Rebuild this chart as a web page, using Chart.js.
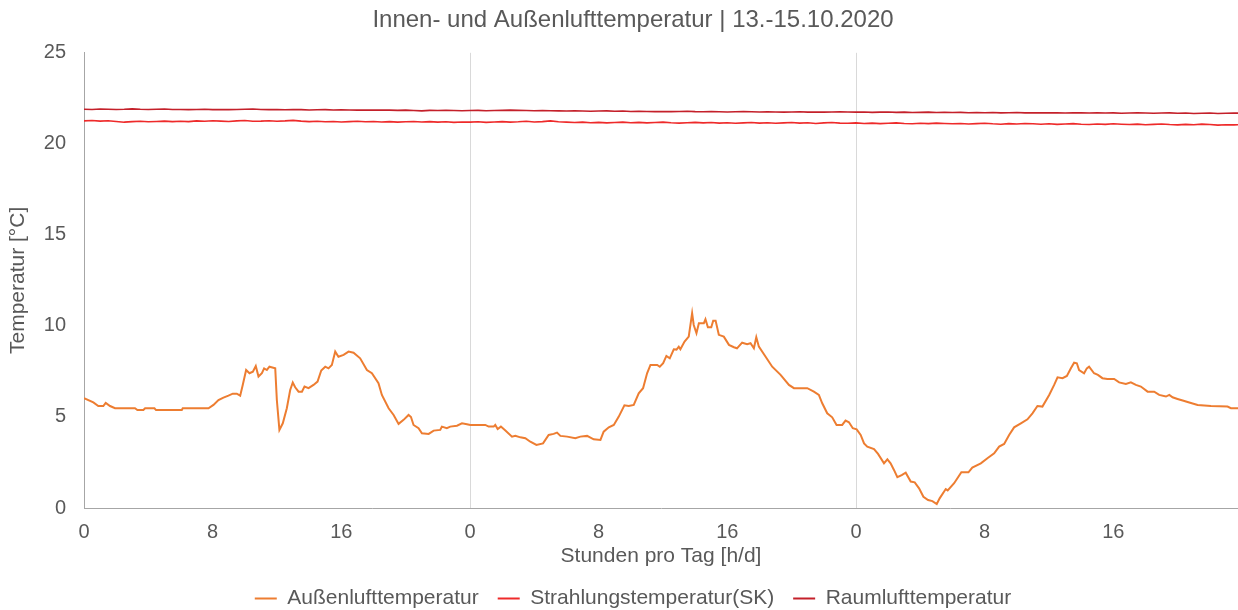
<!DOCTYPE html>
<html>
<head>
<meta charset="utf-8">
<title>Innen- und Außenlufttemperatur</title>
<script src="https://cdn.jsdelivr.net/npm/chart.js@4.4.0/dist/chart.umd.min.js"></script>
<style>
  html, body { margin: 0; padding: 0; background: #fff; }
  #wrap { width: 1238px; height: 610px; position: relative; }
</style>
</head>
<body>
<div id="wrap"><canvas id="myChart"></canvas></div>
<script>
// Außenlufttemperatur (hour since 13.10. 0:00, °C)
const outsideHours = [
  0.0, 0.58, 0.89, 1.2, 1.35, 1.62, 1.93, 3.17, 3.32, 3.69, 3.8, 4.38, 4.48, 6.08, 6.14, 7.74,
  8.05, 8.36, 8.67, 8.98, 9.25, 9.5, 9.71, 9.87, 10.08, 10.29, 10.5, 10.68, 10.85, 11.06, 11.2,
  11.37, 11.53, 11.89, 11.99, 12.15, 12.36, 12.61, 12.82, 12.98, 13.13, 13.34, 13.55, 13.71,
  13.96, 14.27, 14.52, 14.75, 15.0, 15.2, 15.41, 15.62, 15.82, 16.14, 16.45, 16.76, 17.17,
  17.59, 17.9, 18.31, 18.52, 18.94, 19.25, 19.56, 19.87, 20.18, 20.33, 20.49, 20.8, 21.01,
  21.43, 21.74, 22.15, 22.25, 22.56, 22.77, 23.19, 23.5, 23.81, 24.02, 24.95, 25.16, 25.47,
  25.57, 25.72, 25.92, 26.2, 26.61, 26.82, 27.13, 27.44, 27.75, 28.13, 28.54, 28.89, 29.2,
  29.41, 29.62, 30.04, 30.55, 30.86, 31.28, 31.69, 32.11, 32.31, 32.63, 32.94, 33.25, 33.6,
  33.87, 34.18, 34.49, 34.76, 35.01, 35.22, 35.64, 35.8, 36.01, 36.21, 36.42, 36.67, 36.84,
  36.98, 37.08, 37.34, 37.6, 37.81, 37.91, 38.08, 38.23, 38.54, 38.64, 38.79, 39.0, 39.12,
  39.27, 39.47, 39.78, 40.1, 40.41, 40.6, 40.92, 41.23, 41.44, 41.65, 41.8, 41.96, 42.38,
  42.79, 43.31, 43.83, 44.14, 44.97, 45.38, 45.69, 45.9, 46.21, 46.52, 46.79, 47.14, 47.35,
  47.56, 47.8, 48.04, 48.29, 48.5, 48.7, 49.12, 49.37, 49.74, 49.95, 50.15, 50.36, 50.57,
  50.84, 51.09, 51.4, 51.65, 51.92, 52.19, 52.48, 52.75, 53.02, 53.2, 53.58, 53.7, 54.1,
  54.55, 54.99, 55.23, 55.76, 56.17, 56.59, 56.9, 57.21, 57.52, 57.83, 58.25, 58.66, 58.97,
  59.28, 59.59, 60.01, 60.32, 60.53, 60.84, 61.11, 61.36, 61.56, 61.73, 61.87, 62.18, 62.35,
  62.49, 62.8, 63.04, 63.32, 63.63, 64.05, 64.36, 64.78, 65.09, 65.4, 65.71, 66.13, 66.54,
  66.85, 67.27, 67.48, 67.68, 67.99, 68.31, 68.72, 69.24, 70.07, 71.1, 71.31, 71.75
];
const outsideTemp = [
  6.03, 5.8, 5.6, 5.6, 5.77, 5.6, 5.48, 5.48, 5.38, 5.38, 5.48, 5.48, 5.38, 5.38, 5.48, 5.48,
  5.66, 5.93, 6.06, 6.17, 6.28, 6.28, 6.17, 6.76, 7.58, 7.4, 7.49, 7.8, 7.22, 7.4, 7.67,
  7.58, 7.76, 7.67, 5.93, 4.29, 4.65, 5.48, 6.48, 6.89, 6.63, 6.39, 6.39, 6.67,
  6.58, 6.76, 6.94, 7.55, 7.76, 7.67, 7.86, 8.59, 8.31, 8.41, 8.59, 8.53, 8.22,
  7.58, 7.4, 6.85, 6.21, 5.48, 5.11, 4.62, 4.84, 5.11, 5.0, 4.56, 4.38, 4.1,
  4.07, 4.25, 4.29, 4.47, 4.38, 4.47, 4.52, 4.65, 4.6, 4.56, 4.56, 4.47, 4.47,
  4.56, 4.34, 4.47, 4.25, 3.92, 3.97, 3.88, 3.83, 3.64, 3.46, 3.55, 4.01, 4.07,
  4.14, 3.96, 3.92, 3.83, 3.92, 3.96, 3.77, 3.74, 4.19, 4.43, 4.56, 5.02, 5.64,
  5.6, 5.66, 6.3, 6.58, 7.4, 7.86, 7.86, 7.76, 7.95, 8.35, 8.22, 8.72, 8.7,
  8.86, 8.72, 9.14, 9.41, 10.7, 10.05, 9.6, 10.15, 10.15, 10.37, 9.93, 9.93, 10.29,
  10.29, 9.51, 9.41, 8.96, 8.83, 8.77, 9.08, 9.0, 9.05, 8.77, 9.38, 8.86, 8.31,
  7.76, 7.31, 6.76, 6.58, 6.58, 6.39, 6.21, 5.75, 5.2, 4.98, 4.56, 4.56, 4.8,
  4.71, 4.38, 4.32, 4.01, 3.55, 3.37, 3.24, 2.97, 2.45, 2.67, 2.45, 2.09, 1.69,
  1.81, 1.94, 1.45, 1.41, 1.08, 0.62, 0.44, 0.38, 0.22, 0.53, 1.04, 0.97, 1.36,
  1.96, 1.96, 2.22, 2.45, 2.73, 3.0, 3.37, 3.52, 4.01, 4.43, 4.65, 4.87, 5.2,
  5.6, 5.57, 6.21, 6.76, 7.18, 7.13, 7.25, 7.67, 7.98, 7.95, 7.58, 7.4, 7.67,
  7.76, 7.4, 7.31, 7.13, 7.09, 7.09, 6.9, 6.81, 6.9, 6.76, 6.67, 6.39, 6.39,
  6.21, 6.12, 6.21, 6.08, 5.99, 5.9, 5.79, 5.66, 5.6, 5.57, 5.48, 5.48
];

// indoor series, one value per half hour (0 ... 72 h)
const indoorHours = Array.from({ length: 145 }, (_, i) => i * 0.5);
const radiantTemp = [
  21.26, 21.28, 21.25, 21.27, 21.23, 21.19, 21.22, 21.24, 21.21, 21.23, 21.25, 21.22,
  21.24, 21.22, 21.26, 21.24, 21.27, 21.25, 21.23, 21.26, 21.28, 21.24, 21.25, 21.27,
  21.24, 21.26, 21.29, 21.25, 21.22, 21.24, 21.21, 21.23, 21.20, 21.22, 21.24, 21.21,
  21.23, 21.20, 21.22, 21.19, 21.21, 21.23, 21.20, 21.22, 21.19, 21.21, 21.18, 21.20,
  21.19, 21.21, 21.18, 21.20, 21.22, 21.19, 21.21, 21.24, 21.20, 21.22, 21.26, 21.21,
  21.19, 21.17, 21.19, 21.16, 21.18, 21.15, 21.17, 21.19, 21.16, 21.18, 21.15, 21.17,
  21.19, 21.16, 21.14, 21.16, 21.18, 21.15, 21.17, 21.14, 21.16, 21.13, 21.15, 21.17,
  21.14, 21.16, 21.13, 21.15, 21.17, 21.14, 21.16, 21.12, 21.15, 21.17, 21.14, 21.13,
  21.15, 21.12, 21.14, 21.11, 21.13, 21.15, 21.12, 21.10, 21.13, 21.11, 21.14, 21.12,
  21.10, 21.12, 21.09, 21.11, 21.13, 21.10, 21.08, 21.11, 21.09, 21.12, 21.10, 21.08,
  21.10, 21.07, 21.09, 21.11, 21.08, 21.06, 21.09, 21.07, 21.10, 21.08, 21.06, 21.08,
  21.05, 21.07, 21.09, 21.06, 21.04, 21.07, 21.05, 21.08, 21.06, 21.03, 21.05, 21.04,
  21.05
];
const roomTemp = [
  21.90, 21.89, 21.91, 21.90, 21.89, 21.90, 21.92, 21.90, 21.89, 21.90, 21.91, 21.89,
  21.89, 21.88, 21.89, 21.90, 21.88, 21.89, 21.88, 21.89, 21.90, 21.91, 21.89, 21.88,
  21.89, 21.87, 21.88, 21.88, 21.86, 21.87, 21.88, 21.86, 21.87, 21.86, 21.85, 21.86,
  21.85, 21.86, 21.85, 21.84, 21.85, 21.83, 21.81, 21.84, 21.83, 21.84, 21.83, 21.82,
  21.83, 21.84, 21.82, 21.83, 21.84, 21.85, 21.84, 21.83, 21.82, 21.83, 21.82, 21.81,
  21.80, 21.81, 21.80, 21.79, 21.80, 21.81, 21.79, 21.80, 21.78, 21.79, 21.78, 21.77,
  21.78, 21.77, 21.78, 21.79, 21.77, 21.76, 21.77, 21.76, 21.75, 21.76, 21.77, 21.76,
  21.75, 21.76, 21.75, 21.74, 21.75, 21.76, 21.74, 21.75, 21.74, 21.75, 21.76, 21.75,
  21.74, 21.75, 21.73, 21.74, 21.75, 21.73, 21.74, 21.72, 21.73, 21.74, 21.72, 21.73,
  21.72, 21.73, 21.71, 21.72, 21.71, 21.72, 21.70, 21.71, 21.72, 21.70, 21.71, 21.70,
  21.71, 21.70, 21.69, 21.70, 21.71, 21.69, 21.70, 21.69, 21.70, 21.68, 21.69, 21.70,
  21.69, 21.68, 21.69, 21.70, 21.68, 21.69, 21.67, 21.68, 21.69, 21.67, 21.68, 21.69,
  21.68
];

const seriesNames = ['Außenlufttemperatur', 'Strahlungstemperatur(SK)', 'Raumlufttemperatur'];
const xTicks = [0, 8, 16, 24, 32, 40, 48, 56, 64];
const yTicks = [0, 5, 10, 15, 20, 25];

const grey = '#595959';
const font = 'Arial, "Liberation Sans", Helvetica, sans-serif';

const toPoints = (xs, ys) => xs.map((x, i) => ({ x: x, y: ys[i] }));

const ctx = document.getElementById('myChart').getContext('2d');
new Chart(ctx, {
  type: 'line',
  data: {
    datasets: [
      {
        label: seriesNames[0],
        data: toPoints(outsideHours, outsideTemp),
        borderColor: '#ED7D31',
        backgroundColor: '#ED7D31',
        borderWidth: 2
      },
      {
        label: seriesNames[1],
        data: toPoints(indoorHours, radiantTemp),
        borderColor: '#EE2A2A',
        backgroundColor: '#EE2A2A',
        borderWidth: 1.6
      },
      {
        label: seriesNames[2],
        data: toPoints(indoorHours, roomTemp),
        borderColor: '#C4202A',
        backgroundColor: '#C4202A',
        borderWidth: 1.6
      }
    ]
  },
  options: {
    responsive: true,
    maintainAspectRatio: false,
    animation: false,
    events: [],
    elements: {
      point: { radius: 0 },
      line: { tension: 0, fill: false }
    },
    // title and legend are centred a bit right of the canvas middle in the original
    layout: { padding: { left: 28, right: 0, top: 0, bottom: -9 } },
    scales: {
      x: {
        type: 'linear',
        min: 0,
        max: 71.75,
        afterBuildTicks: (axis) => {
          axis.ticks = xTicks.map(v => ({ value: v }));
        },
        afterFit: (axis) => { axis.height = 61; },
        ticks: {
          color: grey,
          font: { family: font, size: 20 },
          padding: 12,
          maxRotation: 0,
          callback: (v) => String(v % 24)
        },
        grid: {
          drawTicks: false,
          color: (c) => (c.tick && c.tick.value > 0 && c.tick.value % 24 === 0) ? '#d9d9d9' : 'rgba(0,0,0,0)',
          lineWidth: 1
        },
        border: { display: true, color: '#a6a6a6', width: 1 },
        title: {
          display: true,
          text: 'Stunden pro Tag [h/d]',
          color: grey,
          font: { family: font, size: 21 },
          padding: { top: 0, bottom: 0 }
        }
      },
      y: {
        min: 0,
        max: 25,
        afterBuildTicks: (axis) => {
          axis.ticks = yTicks.map(v => ({ value: v }));
        },
        afterFit: (axis) => { axis.width = 56; },
        ticks: {
          color: grey,
          font: { family: font, size: 20 },
          padding: 18
        },
        grid: { display: false, drawTicks: false },
        border: { display: true, color: '#a6a6a6', width: 1 },
        title: {
          display: true,
          text: 'Temperatur [°C]',
          color: grey,
          font: { family: font, size: 21 },
          padding: { top: -22, bottom: 0 }
        }
      }
    },
    plugins: {
      title: {
        display: true,
        text: 'Innen- und Außenlufttemperatur | 13.-15.10.2020',
        color: grey,
        font: { family: font, size: 24, weight: 'normal' },
        padding: { top: 6, bottom: 18 }
      },
      legend: {
        position: 'bottom',
        labels: {
          color: grey,
          font: { family: font, size: 21 },
          boxWidth: 22,
          boxHeight: 2,
          padding: 19,
          generateLabels: (chart) =>
            Chart.defaults.plugins.legend.labels.generateLabels(chart).map(l => ({ ...l, lineWidth: 0 }))
        }
      },
      tooltip: { enabled: false }
    }
  }
});
</script>
</body>
</html>
